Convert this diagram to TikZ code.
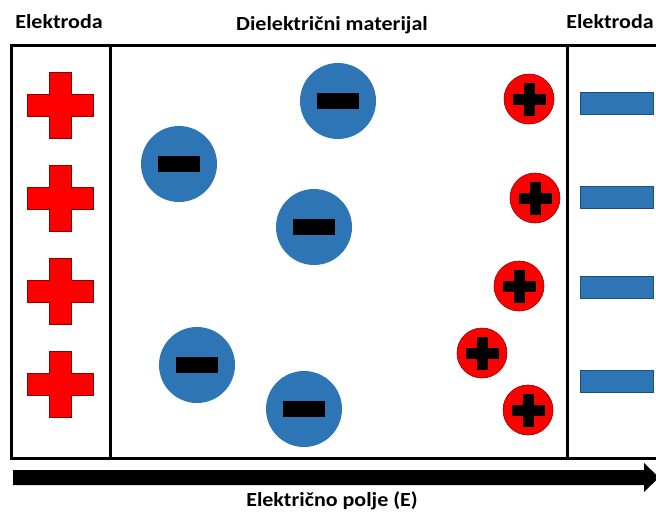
\documentclass[tikz,border=0pt]{standalone}
\usepackage{fontspec}
\setmainfont{Carlito}
\usetikzlibrary{calc}
\definecolor{ionblue}{HTML}{2E75B6}
\definecolor{darkblue}{HTML}{1F4E79}
\definecolor{plusred}{HTML}{FF0000}
\definecolor{edgered}{HTML}{8B0000}
\tikzset{
  frameline/.style={line width=3pt},
  lbl/.style={font=\fontsize{20}{24}\selectfont\bfseries, inner sep=0pt, anchor=base, xscale=1.1},
  anion/.style={circle, fill=ionblue, minimum size=76pt, inner sep=0pt,
    path picture={\fill[black] ([shift={(-21pt,-8pt)}]path picture bounding box.center) rectangle ([shift={(21pt,8pt)}]path picture bounding box.center);}},
  cation/.style={circle, fill=plusred, draw=edgered, line width=0.6pt, minimum size=50pt, inner sep=0pt,
    path picture={
      \fill[black] ([shift={(-16.5pt,-5.5pt)}]path picture bounding box.center) rectangle ([shift={(16.5pt,5.5pt)}]path picture bounding box.center);
      \fill[black] ([shift={(-5.5pt,-16.5pt)}]path picture bounding box.center) rectangle ([shift={(5.5pt,16.5pt)}]path picture bounding box.center);}},
  negbar/.style={rectangle, fill=ionblue, draw=darkblue, line width=0.6pt, minimum width=73pt, minimum height=22pt, inner sep=0pt},
  bigplus/.pic={
    \filldraw[fill=plusred, draw=edgered, line width=0.7pt]
      (-11,-33) -- (11,-33) -- (11,-11) -- (33,-11) -- (33,11) -- (11,11) -- (11,33)
      -- (-11,33) -- (-11,11) -- (-33,11) -- (-33,-11) -- (-11,-11) -- cycle;
    \coordinate (-c) at (0,0);
  }
}
\begin{document}
\begin{tikzpicture}[x=1pt,y=-1pt]
\useasboundingbox (0,0) rectangle (656,514);
% labels
\node[lbl, transform shape] (el1) at (59,28) {Elektroda};
\node[lbl, transform shape] (diel) at (332,30) {Dielektrični materijal};
\node[lbl, transform shape] (el2) at (610,28) {Elektroda};
\node[lbl, transform shape] (field) at (332,506) {Električno polje (E)};
% frame
\coordinate (tl) at (11,45);
\coordinate (tr) at (660,45);
\coordinate (bl) at (11,458);
\coordinate (br) at (660,458);
\draw[frameline] (tr) -- (tl) -- (bl) -- (br);
\coordinate (m1t) at (110,45); \coordinate (m1b) at (110,458);
\coordinate (m2t) at (567,45); \coordinate (m2b) at (567,458);
\draw[frameline] (m1t) -- (m1b);
\draw[frameline] (m2t) -- (m2b);
% electrode plus signs
\pic (p1) at (60,105) {bigplus};
\pic (p2) at (60,198) {bigplus};
\pic (p3) at (60,291) {bigplus};
\pic (p4) at (60,384) {bigplus};
% anions
\node[anion] (a1) at (179,164) {};
\node[anion] (a2) at (338,101) {};
\node[anion] (a3) at (314,227) {};
\node[anion] (a4) at (197,365) {};
\node[anion] (a5) at (304,409) {};
% cations
\node[cation] (c1) at (529,99) {};
\node[cation] (c2) at (535,198) {};
\node[cation] (c3) at (519,286) {};
\node[cation] (c4) at (482,353) {};
\node[cation] (c5) at (528,410) {};
% negative electrode bars
\node[negbar] (n1) at (616.5,103) {};
\node[negbar] (n2) at (616.5,197) {};
\node[negbar] (n3) at (616.5,287) {};
\node[negbar] (n4) at (616.5,381) {};
% field arrow
\fill[black] (13,470) -- (644,470) -- (644,463) -- (659,477.5) -- (644,492) -- (644,485) -- (13,485) -- cycle;
\end{tikzpicture}
\end{document}
